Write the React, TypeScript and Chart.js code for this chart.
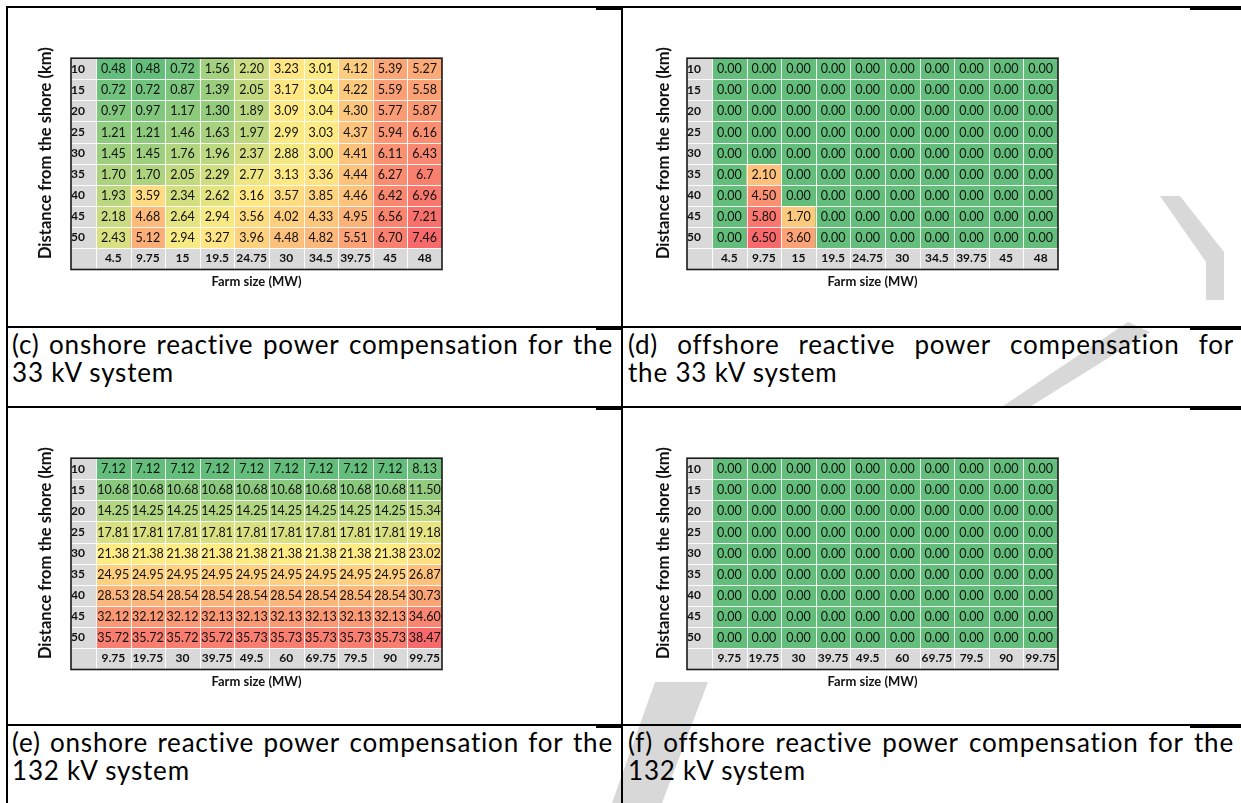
import React, { useEffect, useRef } from 'react';
import { Chart, registerables } from 'chart.js';

Chart.register(...registerables);

// ---------- data ----------
const DISTANCES = [10, 15, 20, 25, 30, 35, 40, 45, 50];
const FARM_33 = ['4.5', '9.75', '15', '19.5', '24.75', '30', '34.5', '39.75', '45', '48'];
const FARM_132 = ['9.75', '19.75', '30', '39.75', '49.5', '60', '69.75', '79.5', '90', '99.75'];

const ONSHORE_33 = [
  [0.48, 0.48, 0.72, 1.56, 2.20, 3.23, 3.01, 4.12, 5.39, 5.27],
  [0.72, 0.72, 0.87, 1.39, 2.05, 3.17, 3.04, 4.22, 5.59, 5.58],
  [0.97, 0.97, 1.17, 1.30, 1.89, 3.09, 3.04, 4.30, 5.77, 5.87],
  [1.21, 1.21, 1.46, 1.63, 1.97, 2.99, 3.03, 4.37, 5.94, 6.16],
  [1.45, 1.45, 1.76, 1.96, 2.37, 2.88, 3.00, 4.41, 6.11, 6.43],
  [1.70, 1.70, 2.05, 2.29, 2.77, 3.13, 3.36, 4.44, 6.27, 6.7],
  [1.93, 3.59, 2.34, 2.62, 3.16, 3.57, 3.85, 4.46, 6.42, 6.96],
  [2.18, 4.68, 2.64, 2.94, 3.56, 4.02, 4.33, 4.95, 6.56, 7.21],
  [2.43, 5.12, 2.94, 3.27, 3.96, 4.48, 4.82, 5.51, 6.70, 7.46],
];
// cells printed with one decimal in the source table
const ONSHORE_33_SHORT = [[5, 9]];

const OFFSHORE_33 = [
  [0.00, 0.00, 0.00, 0.00, 0.00, 0.00, 0.00, 0.00, 0.00, 0.00],
  [0.00, 0.00, 0.00, 0.00, 0.00, 0.00, 0.00, 0.00, 0.00, 0.00],
  [0.00, 0.00, 0.00, 0.00, 0.00, 0.00, 0.00, 0.00, 0.00, 0.00],
  [0.00, 0.00, 0.00, 0.00, 0.00, 0.00, 0.00, 0.00, 0.00, 0.00],
  [0.00, 0.00, 0.00, 0.00, 0.00, 0.00, 0.00, 0.00, 0.00, 0.00],
  [0.00, 2.10, 0.00, 0.00, 0.00, 0.00, 0.00, 0.00, 0.00, 0.00],
  [0.00, 4.50, 0.00, 0.00, 0.00, 0.00, 0.00, 0.00, 0.00, 0.00],
  [0.00, 5.80, 1.70, 0.00, 0.00, 0.00, 0.00, 0.00, 0.00, 0.00],
  [0.00, 6.50, 3.60, 0.00, 0.00, 0.00, 0.00, 0.00, 0.00, 0.00],
];

const ONSHORE_132 = [
  [7.12, 7.12, 7.12, 7.12, 7.12, 7.12, 7.12, 7.12, 7.12, 8.13],
  [10.68, 10.68, 10.68, 10.68, 10.68, 10.68, 10.68, 10.68, 10.68, 11.50],
  [14.25, 14.25, 14.25, 14.25, 14.25, 14.25, 14.25, 14.25, 14.25, 15.34],
  [17.81, 17.81, 17.81, 17.81, 17.81, 17.81, 17.81, 17.81, 17.81, 19.18],
  [21.38, 21.38, 21.38, 21.38, 21.38, 21.38, 21.38, 21.38, 21.38, 23.02],
  [24.95, 24.95, 24.95, 24.95, 24.95, 24.95, 24.95, 24.95, 24.95, 26.87],
  [28.53, 28.54, 28.54, 28.54, 28.54, 28.54, 28.54, 28.54, 28.54, 30.73],
  [32.12, 32.12, 32.12, 32.13, 32.13, 32.13, 32.13, 32.13, 32.13, 34.60],
  [35.72, 35.72, 35.72, 35.72, 35.73, 35.73, 35.73, 35.73, 35.73, 38.47],
];

const OFFSHORE_132 = [
  [0.00, 0.00, 0.00, 0.00, 0.00, 0.00, 0.00, 0.00, 0.00, 0.00],
  [0.00, 0.00, 0.00, 0.00, 0.00, 0.00, 0.00, 0.00, 0.00, 0.00],
  [0.00, 0.00, 0.00, 0.00, 0.00, 0.00, 0.00, 0.00, 0.00, 0.00],
  [0.00, 0.00, 0.00, 0.00, 0.00, 0.00, 0.00, 0.00, 0.00, 0.00],
  [0.00, 0.00, 0.00, 0.00, 0.00, 0.00, 0.00, 0.00, 0.00, 0.00],
  [0.00, 0.00, 0.00, 0.00, 0.00, 0.00, 0.00, 0.00, 0.00, 0.00],
  [0.00, 0.00, 0.00, 0.00, 0.00, 0.00, 0.00, 0.00, 0.00, 0.00],
  [0.00, 0.00, 0.00, 0.00, 0.00, 0.00, 0.00, 0.00, 0.00, 0.00],
  [0.00, 0.00, 0.00, 0.00, 0.00, 0.00, 0.00, 0.00, 0.00, 0.00],
];

const CAPTIONS = [
  ['(c) onshore reactive power compensation for the', '33 kV system'],
  ['(d) offshore reactive power compensation for', 'the 33 kV system'],
  ['(e) onshore reactive power compensation for the', '132 kV system'],
  ['(f) offshore reactive power compensation for the', '132 kV system'],
];

const Y_TITLE = 'Distance from the shore (km)';
const X_TITLE = 'Farm size (MW)';

// ---------- styling ----------
const FONT = 'Lato, "Open Sans", sans-serif';
const GREEN = [99, 190, 123];
const YELLOW = [255, 235, 132];
const RED = [248, 105, 107];
const GRAY_W = 25;
const LABEL_ROW_H = 21.5;

function percentile(sorted: number[], p: number) {
  const idx = (sorted.length - 1) * p;
  const lo = Math.floor(idx);
  const hi = Math.ceil(idx);
  return sorted[lo] + (sorted[hi] - sorted[lo]) * (idx - lo);
}

function mix(a: number[], b: number[], t: number) {
  return `rgb(${a.map((c, i) => Math.round(c + (b[i] - c) * t)).join(',')})`;
}

function colorFor(v: number, min: number, mid: number, max: number) {
  if (v <= min) return mix(GREEN, GREEN, 0);
  if (v >= max) return mix(RED, RED, 0);
  if (v <= mid) return mix(GREEN, YELLOW, (v - min) / (mid - min));
  return mix(YELLOW, RED, (v - mid) / (max - mid));
}

const heatPlugin = {
  id: 'heat',
  beforeDraw(chart: any) {
    const { ctx, chartArea: a } = chart;
    ctx.save();
    ctx.fillStyle = '#D9D9D9';
    ctx.fillRect(a.left - GRAY_W, a.top, GRAY_W, a.bottom - a.top + LABEL_ROW_H);
    ctx.fillRect(a.left, a.bottom, a.right - a.left, LABEL_ROW_H);
    ctx.restore();
  },
  afterDatasetsDraw(chart: any) {
    const { ctx, chartArea: a, scales } = chart;
    const x = scales.x;
    const y = scales.y;
    ctx.save();
    ctx.strokeStyle = 'rgba(255,255,255,0.9)';
    ctx.lineWidth = 1;
    const seg = (x1: number, y1: number, x2: number, y2: number) => {
      ctx.beginPath();
      ctx.moveTo(x1, y1);
      ctx.lineTo(x2, y2);
      ctx.stroke();
    };
    const n = chart.data.labels.length;
    for (let i = 1; i < n; i++) {
      const px = Math.round((x.getPixelForValue(i - 1) + x.getPixelForValue(i)) / 2) + 0.5;
      seg(px, a.top, px, a.bottom + LABEL_ROW_H);
    }
    seg(a.left + 0.5, a.top, a.left + 0.5, a.bottom + LABEL_ROW_H);
    for (let j = 1; j <= DISTANCES.length; j++) {
      const py = Math.round(y.getPixelForValue(j)) + 0.5;
      seg(a.left - GRAY_W, py, a.right, py);
    }
    ctx.fillStyle = '#111';
    ctx.font = `12.5px ${FONT}`;
    ctx.textAlign = 'center';
    ctx.textBaseline = 'middle';
    chart.data.datasets.forEach((ds: any, di: number) => {
      const meta = chart.getDatasetMeta(di);
      meta.data.forEach((bar: any, ci: number) => {
        const p = bar.getProps(['x', 'y', 'base'], true);
        ctx.fillText(ds.cellText[ci], p.x, (p.y + p.base) / 2 + 0.5);
      });
    });
    ctx.strokeStyle = '#1a1a1a';
    ctx.lineWidth = 1.6;
    ctx.strokeRect(a.left - GRAY_W, a.top, a.right - a.left + GRAY_W, a.bottom - a.top + LABEL_ROW_H);
    ctx.fillStyle = '#111';
    ctx.font = `bold 13px ${FONT}`;
    ctx.fillText(X_TITLE, (a.left - GRAY_W + a.right) / 2, a.bottom + LABEL_ROW_H + 12);
    ctx.restore();
  },
};

type HeatProps = {
  values: number[][];
  xLabels: string[];
  left: number;
  top: number;
  yWidth: number;
  rightPad: number;
  short?: number[][];
};

function HeatChart({ values, xLabels, left, top, yWidth, rightPad, short = [] }: HeatProps) {
  const ref = useRef<HTMLCanvasElement>(null);
  useEffect(() => {
    const sorted = values.flat().slice().sort((p, q) => p - q);
    const min = sorted[0];
    const max = sorted[sorted.length - 1];
    const mid = percentile(sorted, 0.5);
    const chart = new Chart(ref.current as HTMLCanvasElement, {
      type: 'bar',
      data: {
        labels: xLabels,
        datasets: DISTANCES.map((d, r) => ({
          label: `${d} km`,
          data: values[r].map(() => 1),
          backgroundColor: values[r].map((v) => colorFor(v, min, mid, max)),
          cellText: values[r].map((v, c) =>
            short.some(([sr, sc]) => sr === r && sc === c) ? v.toFixed(1) : v.toFixed(2)
          ),
          borderWidth: 0,
          barPercentage: 1,
          categoryPercentage: 1,
        })) as any,
      },
      options: {
        animation: false,
        responsive: false,
        devicePixelRatio: 1,
        events: [],
        layout: { padding: { left: 0, top: 14, right: rightPad, bottom: 9 } },
        plugins: { legend: { display: false }, tooltip: { enabled: false } },
        scales: {
          x: {
            type: 'category',
            stacked: true,
            offset: true,
            grid: { display: false, drawTicks: false },
            border: { display: false },
            ticks: {
              padding: 3,
              maxRotation: 0,
              minRotation: 0,
              autoSkip: false,
              color: '#111',
              font: { family: FONT, size: 12, weight: 'bold', lineHeight: 1.2 },
            },
            afterFit: (s: any) => {
              s.height = 43;
            },
          },
          y: {
            type: 'linear',
            stacked: true,
            min: 0,
            max: DISTANCES.length,
            reverse: true,
            grid: { display: false, drawTicks: false },
            border: { display: false },
            afterBuildTicks: (s: any) => {
              s.ticks = DISTANCES.map((_, i) => ({ value: i + 0.5 }));
            },
            ticks: {
              autoSkip: false,
              padding: 11,
              color: '#111',
              font: { family: FONT, size: 12, weight: 'bold', lineHeight: 1.2 },
              callback: (v: any) => String(DISTANCES[Math.floor(Number(v))]),
            },
            title: {
              display: true,
              text: Y_TITLE,
              color: '#111',
              font: { family: FONT, size: 16.5, weight: 'bold', lineHeight: 1.2 },
              padding: { top: 16.1, bottom: 0 },
            },
            afterFit: (s: any) => {
              s.width = yWidth;
            },
          },
        },
      } as any,
      plugins: [heatPlugin as any],
    });
    return () => chart.destroy();
  }, []);
  return (
    <canvas
      ref={ref}
      width={440}
      height={260}
      style={{ position: 'absolute', left, top, width: 440, height: 260 }}
    />
  );
}

function HLine({ y, x1, x2, t = 2 }: { y: number; x1: number; x2: number; t?: number }) {
  return <div style={{ position: 'absolute', left: x1, top: y - t / 2, width: x2 - x1, height: t, background: '#000' }} />;
}
function VLine({ x, y1, y2, t = 2 }: { x: number; y1: number; y2: number; t?: number }) {
  return <div style={{ position: 'absolute', left: x - t / 2, top: y1, width: t, height: y2 - y1, background: '#000' }} />;
}

function Caption({ lines, left, top, width }: { lines: string[]; left: number; top: number; width: number }) {
  return (
    <div
      style={{
        position: 'absolute',
        left,
        top,
        width,
        fontFamily: FONT,
        fontSize: 26,
        lineHeight: '28px',
        color: '#000',
        whiteSpace: 'nowrap',
      }}
    >
      <div style={{ display: 'flex', justifyContent: 'space-between', width }}>
        {lines[0].split(' ').map((w, i) => (
          <span key={i} style={{ letterSpacing: '0.8px' }}>{w}</span>
        ))}
      </div>
      <div style={{ letterSpacing: '0.8px' }}>{lines[1]}</div>
    </div>
  );
}

// faint background watermark fragments (only the parts visible between the figure's opaque areas)
function Watermark() {
  return (
    <svg width={1241} height={803} style={{ position: 'absolute', left: 0, top: 0 }}>
      <g fill="#D8D8D8">
        <polygon points="1160,196 1180,196 1224,252 1224,300 1206,300 1206,262" />
        <polygon points="1000,408 1028,408 1150,332 1128,322" />
        <polygon points="655,682 708,682 662,803 612,803" />
      </g>
    </svg>
  );
}

export default function App() {
  const hys = [7, 327, 407, 725];
  return (
    <div
      style={{
        position: 'fixed',
        left: 0,
        top: 0,
        width: 1241,
        height: 803,
        background: '#fff',
        overflow: 'hidden',
      }}
    >
      <Watermark />
      {hys.map((y) => (
        <React.Fragment key={y}>
          <HLine y={y} x1={6} x2={1241} />
          <HLine y={y + 1} x1={596} x2={621} t={3} />
          <HLine y={y + 1} x1={1190} x2={1241} t={3} />
        </React.Fragment>
      ))}
      <VLine x={7} y1={6} y2={803} />
      <VLine x={622} y1={6} y2={803} />

      <HeatChart values={ONSHORE_33} xLabels={FARM_33} left={20} top={40} yWidth={76} rightPad={18} short={ONSHORE_33_SHORT} />
      <HeatChart values={OFFSHORE_33} xLabels={FARM_33} left={638} top={40} yWidth={74} rightPad={20} />
      <HeatChart values={ONSHORE_132} xLabels={FARM_132} left={20} top={440} yWidth={76} rightPad={18} />
      <HeatChart values={OFFSHORE_132} xLabels={FARM_132} left={638} top={440} yWidth={74} rightPad={20} />

      <Caption lines={CAPTIONS[0]} left={12} top={330} width={601} />
      <Caption lines={CAPTIONS[1]} left={628} top={330} width={606} />
      <Caption lines={CAPTIONS[2]} left={12} top={728} width={601} />
      <Caption lines={CAPTIONS[3]} left={628} top={728} width={606} />
    </div>
  );
}
